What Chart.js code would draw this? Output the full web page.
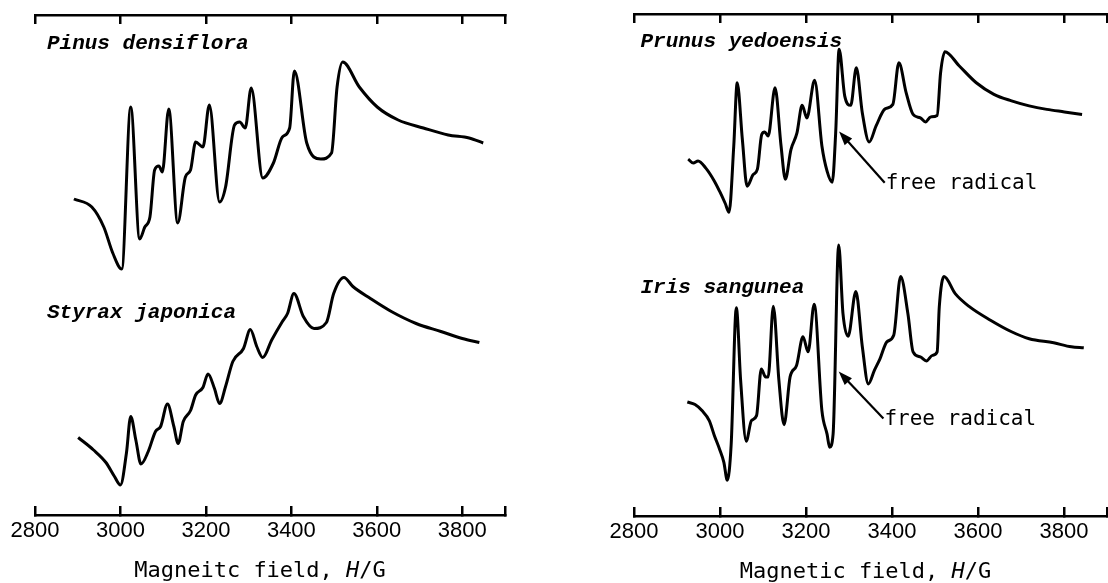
<!DOCTYPE html>
<html>
<head>
<meta charset="utf-8">
<script src="https://cdn.jsdelivr.net/npm/chart.js@4.4.1/dist/chart.umd.min.js"></script>
<style>
  html, body { margin: 0; padding: 0; background: #fff; }
  #wrap { position: relative; width: 1108px; height: 583px; overflow: hidden; }
  canvas { position: absolute; top: 0; }
  #leftChart { left: 0; }
  #rightChart { left: 554px; }
</style>
</head>
<body>
<div id="wrap">
  <canvas id="leftChart" width="554" height="583"></canvas>
  <canvas id="rightChart" width="554" height="583"></canvas>
</div>
<script>
// field in G, signal in arbitrary units (0 = lower axis, 100 = upper axis)
const tickValues = [2800, 3000, 3200, 3400, 3600, 3800, 3900];
const tickLabels = ['2800', '3000', '3200', '3400', '3600', '3800', ''];

const pinusField = [2891, 2933, 2961, 2982, 3003, 3024, 3045, 3057, 3069, 3080, 3090, 3098, 3113, 3134, 3152, 3164, 3176, 3193, 3208, 3232, 3246, 3267, 3279, 3292, 3306, 3333, 3358, 3379, 3396, 3407, 3436, 3469, 3494, 3507, 3520, 3559, 3601, 3650, 3709, 3767, 3816, 3849];
const pinusSignal = [63.2, 61.6, 57.6, 52.4, 49.2, 81.6, 55.2, 57.6, 59.6, 69, 69.8, 68.6, 81.2, 58.4, 67.6, 69, 74.6, 73.6, 82, 62.6, 65.6, 78, 78.6, 77.4, 85.4, 67.4, 70.4, 75.6, 77.4, 88.8, 74.4, 71.2, 72.4, 85.6, 90.6, 85.6, 81.6, 79, 77.4, 76, 75.4, 74.4];

const styraxField = [2901, 2937, 2966, 2986, 3000, 3014, 3024, 3036, 3048, 3065, 3082, 3094, 3110, 3125, 3135, 3147, 3164, 3176, 3193, 3205, 3220, 3232, 3246, 3263, 3288, 3304, 3319, 3333, 3354, 3379, 3391, 3406, 3428, 3453, 3482, 3499, 3523, 3544, 3585, 3634, 3692, 3750, 3800, 3840];
const styraxSignal = [15.5, 13, 10.5, 7.7, 6, 12.4, 19.7, 15, 10.2, 12.7, 16.7, 17.7, 22.2, 17.7, 14.3, 18.7, 20.9, 24, 25.5, 28.2, 25.3, 22.3, 25.7, 30.7, 33.3, 37.1, 33.7, 31.5, 35, 38.7, 40.3, 44.3, 39.7, 37.3, 38.5, 44.3, 47.5, 45.7, 43.3, 40.7, 38.3, 36.7, 35.3, 34.5];

const prunusField = [2926, 2938, 2949, 2967, 2987, 2999, 3012, 3021, 3032, 3040, 3052, 3063, 3077, 3087, 3097, 3104, 3112, 3128, 3142, 3152, 3165, 3179, 3191, 3202, 3220, 3237, 3249, 3261, 3269, 3277, 3290, 3304, 3317, 3331, 3347, 3363, 3384, 3402, 3416, 3433, 3449, 3466, 3478, 3490, 3505, 3513, 3523, 3556, 3596, 3637, 3678, 3719, 3760, 3801, 3842];
const prunusSignal = [71.1, 70.3, 70.7, 69.3, 66.7, 64.7, 62.3, 60.5, 73.7, 86.3, 75, 65.7, 68, 69.1, 76, 76.5, 75.7, 85.3, 73.7, 67.1, 73, 76.3, 81.8, 79.3, 86.8, 73.7, 68.7, 66.5, 76.3, 93, 83.7, 81.8, 89.3, 80.3, 74.5, 77.7, 81.1, 82, 90.3, 84.3, 80, 79.3, 78.5, 79.5, 79.8, 88.3, 92.5, 89.7, 86.3, 84, 82.7, 81.7, 81, 80.5, 80];

const irisField = [2924, 2942, 2958, 2975, 2987, 2999, 3009, 3017, 3026, 3038, 3048, 3061, 3073, 3085, 3096, 3106, 3112, 3124, 3137, 3149, 3163, 3178, 3193, 3205, 3219, 3237, 3249, 3255, 3263, 3276, 3286, 3298, 3316, 3331, 3345, 3359, 3372, 3388, 3404, 3420, 3437, 3449, 3466, 3480, 3494, 3505, 3510, 3521, 3547, 3580, 3629, 3678, 3719, 3776, 3817, 3846];
const irisSignal = [22.7, 22.2, 21, 19, 16, 13.3, 10.7, 7.1, 14.3, 41.5, 27, 14.9, 19, 20, 29.3, 27.7, 27.7, 41.8, 27, 18.2, 27.7, 30, 35.7, 32.7, 42.2, 21, 16.3, 13.7, 16.3, 54, 40.3, 35.8, 44.7, 33.7, 26.3, 29, 31.3, 34.7, 36, 47.7, 40.3, 32.7, 31.7, 30.9, 32, 32.7, 41.7, 47.7, 44.3, 41.7, 39, 36.7, 35.3, 34.5, 33.7, 33.5];

Chart.defaults.font.family = '"Liberation Sans", Arial, sans-serif';
Chart.defaults.color = '#000';

function toPoints(xs, ys) {
    return xs.map((v, i) => ({ x: v, y: ys[i] }));
}

function spectrum(xs, ys) {
    return {
        data: toPoints(xs, ys),
        borderColor: '#000',
        borderWidth: 3,
        pointRadius: 0,
        fill: false,
        cubicInterpolationMode: 'monotone'
    };
}

// species names, arrows and the axis title
const textPlugin = {
    id: 'spectrumText',
    afterDraw(chart, args, opts) {
        const { ctx } = chart;
        const x = chart.scales.x, y = chart.scales.y;
        ctx.save();
        ctx.fillStyle = '#000';
        ctx.strokeStyle = '#000';
        ctx.textAlign = 'left';
        ctx.textBaseline = 'middle';

        ctx.font = 'italic bold 21px "Liberation Mono"';
        opts.names.forEach(n => ctx.fillText(n.text, x.getPixelForValue(n.field), y.getPixelForValue(n.signal)));

        opts.arrows.forEach(a => {
            const x1 = x.getPixelForValue(a.from[0]), y1 = y.getPixelForValue(a.from[1]);
            const x2 = x.getPixelForValue(a.to[0]), y2 = y.getPixelForValue(a.to[1]);
            const ang = Math.atan2(y2 - y1, x2 - x1);
            const c = Math.cos(ang), s = Math.sin(ang);
            ctx.lineWidth = 2.2;
            ctx.beginPath();
            ctx.moveTo(x1, y1);
            ctx.lineTo(x2 - 8 * c, y2 - 8 * s);
            ctx.stroke();
            ctx.beginPath();
            ctx.moveTo(x2, y2);
            ctx.lineTo(x2 - 14 * c + 5 * s, y2 - 14 * s - 5 * c);
            ctx.lineTo(x2 - 14 * c - 5 * s, y2 - 14 * s + 5 * c);
            ctx.closePath();
            ctx.fill();
            ctx.font = '21px "DejaVu Sans Mono"';
            ctx.fillText(a.text, x1 + 1, y1 + 1);
        });

        // axis title with italic H
        const parts = [
            { t: opts.title[0], f: '22px "DejaVu Sans Mono"' },
            { t: 'H', f: 'italic 22px "DejaVu Sans Mono"' },
            { t: '/G', f: '22px "DejaVu Sans Mono"' }
        ];
        let total = 0;
        parts.forEach(p => { ctx.font = p.f; p.w = ctx.measureText(p.t).width; total += p.w; });
        let tx = (chart.chartArea.left + chart.chartArea.right) / 2 + opts.titleShift - total / 2;
        const ty = x.top + 62;
        ctx.textBaseline = 'alphabetic';
        parts.forEach(p => { ctx.font = p.f; ctx.fillText(p.t, tx, ty); tx += p.w; });
        ctx.restore();
    }
};

function fieldAxis(position, axisHeight) {
    return {
        type: 'linear',
        position: position,
        min: 2800,
        max: 3900,
        afterBuildTicks: s => { s.ticks = tickValues.map(v => ({ value: v })); },
        afterFit: s => { s.height = axisHeight; s.paddingLeft = 0; s.paddingRight = 0; },
        border: { display: true, color: '#000', width: 2.5 },
        grid: { drawOnChartArea: false, drawTicks: true, tickLength: -9, tickWidth: 2.5, tickColor: '#000', color: '#000', lineWidth: 2.5 },
        ticks: {
            display: position === 'bottom',
            padding: 12,
            color: '#000',
            font: { size: 22 },
            maxRotation: 0,
            autoSkip: false,
            callback: (v, i) => tickLabels[i]
        }
    };
}

function makeChart(id, series, pad, axisHeight, text) {
    return new Chart(document.getElementById(id), {
        type: 'line',
        data: { datasets: series },
        options: {
            responsive: false,
            animation: false,
            events: [],
            layout: { padding: pad },
            plugins: { legend: { display: false }, tooltip: { enabled: false }, spectrumText: text },
            scales: {
                x: fieldAxis('bottom', axisHeight),
                x2: fieldAxis('top', 0),
                y: { display: false, min: 0, max: 100 }
            }
        },
        plugins: [textPlugin]
    });
}

makeChart('leftChart',
    [spectrum(pinusField, pinusSignal), spectrum(styraxField, styraxSignal)],
    { left: 35, right: 49, top: 15, bottom: 0 }, 68,
    {
        names: [
            { text: 'Pinus densiflora', field: 2828, signal: 94.2 },
            { text: 'Styrax japonica', field: 2828, signal: 40.4 }
        ],
        arrows: [],
        title: ['Magneitc field, '],
        titleShift: -10
    });

makeChart('rightChart',
    [spectrum(prunusField, prunusSignal), spectrum(irisField, irisSignal)],
    { left: 80, right: 1, top: 14, bottom: 0 }, 67,
    {
        names: [
            { text: 'Prunus yedoensis', field: 2815, signal: 94.4 },
            { text: 'Iris sangunea', field: 2815, signal: 45.4 }
        ],
        arrows: [
            { text: 'free radical', from: [3383, 66.4], to: [3277, 76.6] },
            { text: 'free radical', from: [3380, 19.4], to: [3276, 28.8] }
        ],
        title: ['Magnetic field, '],
        titleShift: -5
    });
</script>
</body>
</html>
